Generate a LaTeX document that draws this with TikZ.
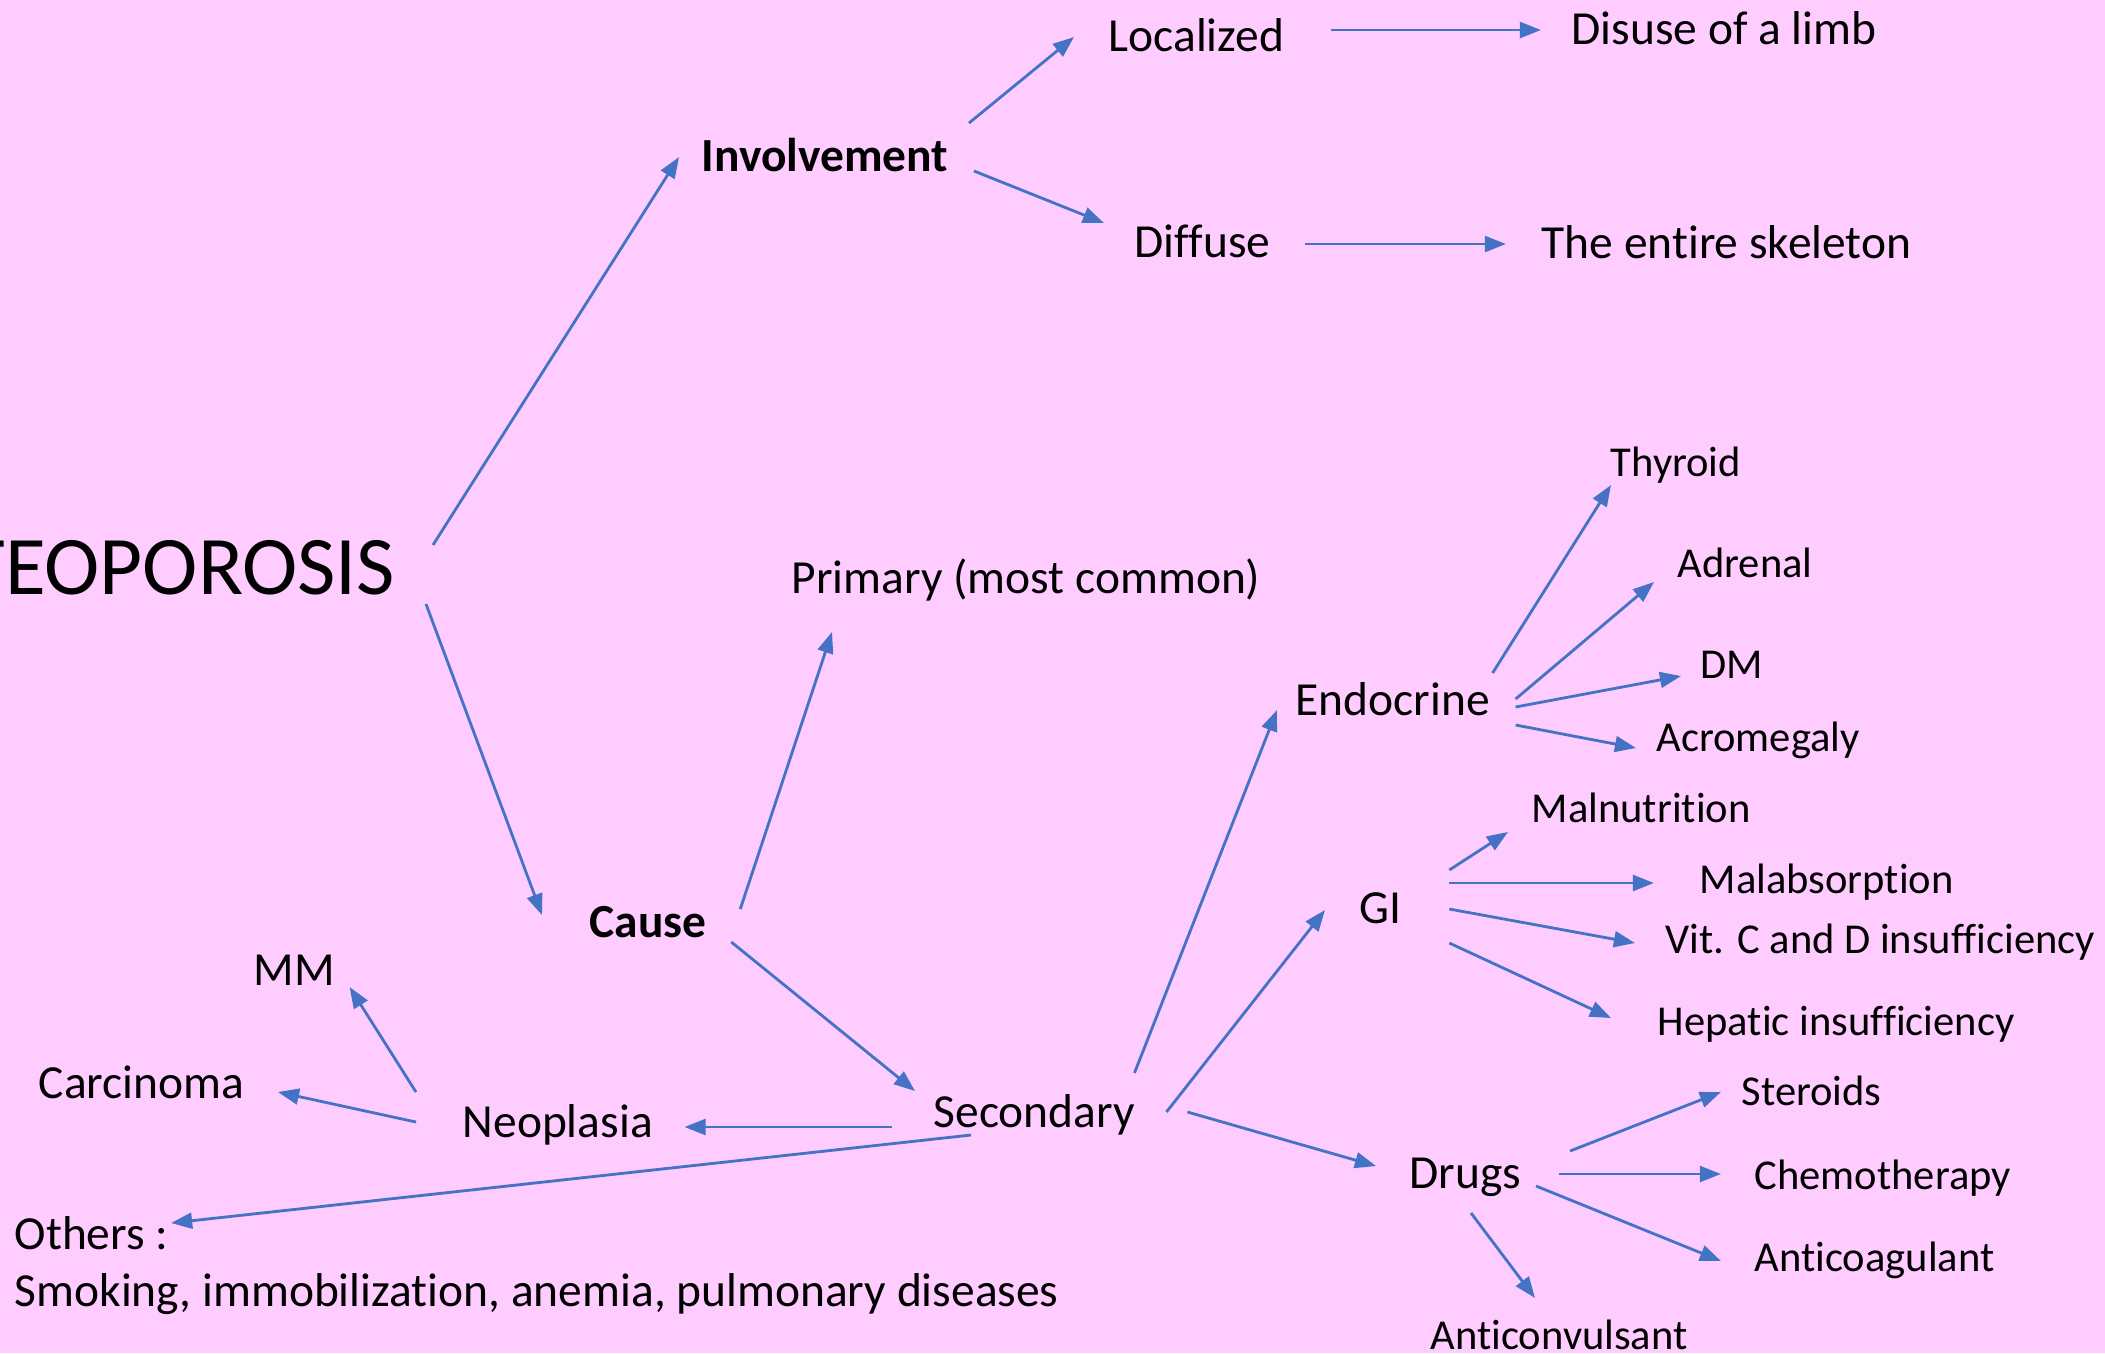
\documentclass[tikz,border=0pt]{standalone}
\usepackage{fontspec}
\setmainfont{Carlito}[Ligatures=NoCommon]
\usetikzlibrary{arrows.meta}
\definecolor{bgpink}{HTML}{FFCCFF}
\definecolor{arrblue}{HTML}{4472C4}

\begin{document}
\begin{tikzpicture}[x=0.01cm,y=-0.01cm,
  txt/.style={anchor=west,inner sep=0pt,text height=8.5pt,text depth=0pt,font=\fontsize{13.5}{16}\selectfont},
  hd/.style={txt,font=\fontsize{13.5}{16}\selectfont\bfseries},
  leaf/.style={txt,text height=7.6pt,font=\fontsize{12.1}{14}\selectfont},
  arr/.style={arrblue,line width=0.8pt,-{Triangle[length=6pt,width=4.5pt]}}]
  \useasboundingbox (0,0) rectangle (2105,1353);
  \clip (0,0) rectangle (2105,1353);
  \fill[bgpink] (0,0) rectangle (2105,1353);
  \node[anchor=east,inner sep=0pt,text height=15pt,text depth=0pt,font=\fontsize{23.7}{28}\selectfont] (ost) at (396,568) {OSTEOPOROSIS};
  \node[hd] (inv) at (701,157) {Involvement};
  \node[txt] (loc) at (1108,37) {Localized};
  \node[txt] (limb) at (1571,30) {Disuse of a limb};
  \node[txt] (dif) at (1134,243) {Diffuse};
  \node[txt] (skel) at (1541,244) {The entire skeleton};
  \node[txt] (prim) at (791,579) {Primary (most common)};
  \node[hd] (cause) at (589,923) {Cause};
  \node[txt] (sec) at (933,1113) {Secondary};
  \node[txt] (neo) at (462,1123) {Neoplasia};
  \node[txt] (mm) at (253,971) {MM};
  \node[txt] (carc) at (38,1084) {Carcinoma};
  \node[txt] (oth) at (14,1235) {Others :};
  \node[txt] (smk) at (14,1292) {Smoking, immobilization, anemia, pulmonary diseases};
  \node[txt] (endo) at (1295,701) {Endocrine};
  \node[leaf] (thy) at (1610,463) {Thyroid};
  \node[leaf] (adr) at (1677,564) {Adrenal};
  \node[leaf] (dm) at (1700,665) {DM};
  \node[leaf] (acro) at (1656,738) {Acromegaly};
  \node[txt] (gi) at (1359,909) {GI};
  \node[leaf] (maln) at (1531,809) {Malnutrition};
  \node[leaf] (malab) at (1699,880) {Malabsorption};
  \node[leaf] (vit) at (1665,940) {Vit. C and D insufficiency};
  \node[leaf] (hep) at (1657,1022) {Hepatic insufficiency};
  \node[txt] (drugs) at (1409,1174) {Drugs};
  \node[leaf] (ster) at (1741,1092) {Steroids};
  \node[leaf] (chemo) at (1754,1176) {Chemotherapy};
  \node[leaf] (antico) at (1754,1258) {Anticoagulant};
  \node[leaf] (anticonv) at (1430,1336) {Anticonvulsant};
  % main branches
  \draw[arr] ([shift={(37,-23)}]ost.east) -- ([shift={(-22,0)}]inv.west);
  \draw[arr] ([shift={(30,36)}]ost.east) -- ([shift={(-47,-8)}]cause.west);
  \draw[arr] ([shift={(20,-34)}]inv.east) -- ([shift={(-34,0)}]loc.west);
  \draw[arr] ([shift={(25,14)}]inv.east) -- ([shift={(-30,-20)}]dif.west);
  \draw[arr] ([shift={(46,-7)}]loc.east) -- ([shift={(-30,0)}]limb.west);
  \draw[arr] ([shift={(34,1)}]dif.east) -- ([shift={(-35,0)}]skel.west);
  \draw[arr] ([shift={(33,-14)}]cause.east) -- ([shift={(41,53)}]prim.west);
  \draw[arr] ([shift={(24,19)}]cause.east) -- ([shift={(-18,-22)}]sec.west);
  % secondary
  \draw[arr] ([shift={(-41,14)}]sec.west) -- ([shift={(31,4)}]neo.east);
  \draw[arr] ([shift={(-46,-31)}]neo.west) -- ([shift={(14,16)}]mm.east);
  \draw[arr] ([shift={(-46,-1)}]neo.west) -- ([shift={(33,8)}]carc.east);
  \draw[arr] ([shift={(38,22)}]sec.west) -- ([shift={(2,-12)}]oth.east);
  \draw[arr] ([shift={(-1,-40)}]sec.east) -- ([shift={(-18,9)}]endo.west);
  \draw[arr] ([shift={(31,-1)}]sec.east) -- ([shift={(-34,1)}]gi.west);
  \draw[arr] ([shift={(52,-1)}]sec.east) -- ([shift={(-33,-8)}]drugs.west);
  % endocrine
  \draw[arr] ([shift={(2,-28)}]endo.east) -- ([shift={(1,22)}]thy.west);
  \draw[arr] ([shift={(25,-2)}]endo.east) -- ([shift={(-23,18)}]adr.west);
  \draw[arr] ([shift={(25,6)}]endo.east) -- ([shift={(-19,11)}]dm.west);
  \draw[arr] ([shift={(25,24)}]endo.east) -- ([shift={(-20,10)}]acro.west);
  % GI
  \draw[arr] ([shift={(47,-39)}]gi.east) -- ([shift={(-23,23)}]maln.west);
  \draw[arr] ([shift={(47,-26)}]gi.east) -- ([shift={(-45,3)}]malab.west);
  \draw[arr] ([shift={(47,0)}]gi.east) -- ([shift={(-30,3)}]vit.west);
  \draw[arr] ([shift={(47,34)}]gi.east) -- ([shift={(-46,-4)}]hep.west);
  % drugs
  \draw[arr] ([shift={(48,-23)}]drugs.east) -- ([shift={(-20,0)}]ster.west);
  \draw[arr] ([shift={(37,0)}]drugs.east) -- ([shift={(-33,-2)}]chemo.west);
  \draw[arr] ([shift={(14,12)}]drugs.east) -- ([shift={(-33,3)}]antico.west);
  \draw[arr] ([shift={(62,39)}]drugs.west) -- ([shift={(105,-38)}]anticonv.west);
\end{tikzpicture}
\end{document}
